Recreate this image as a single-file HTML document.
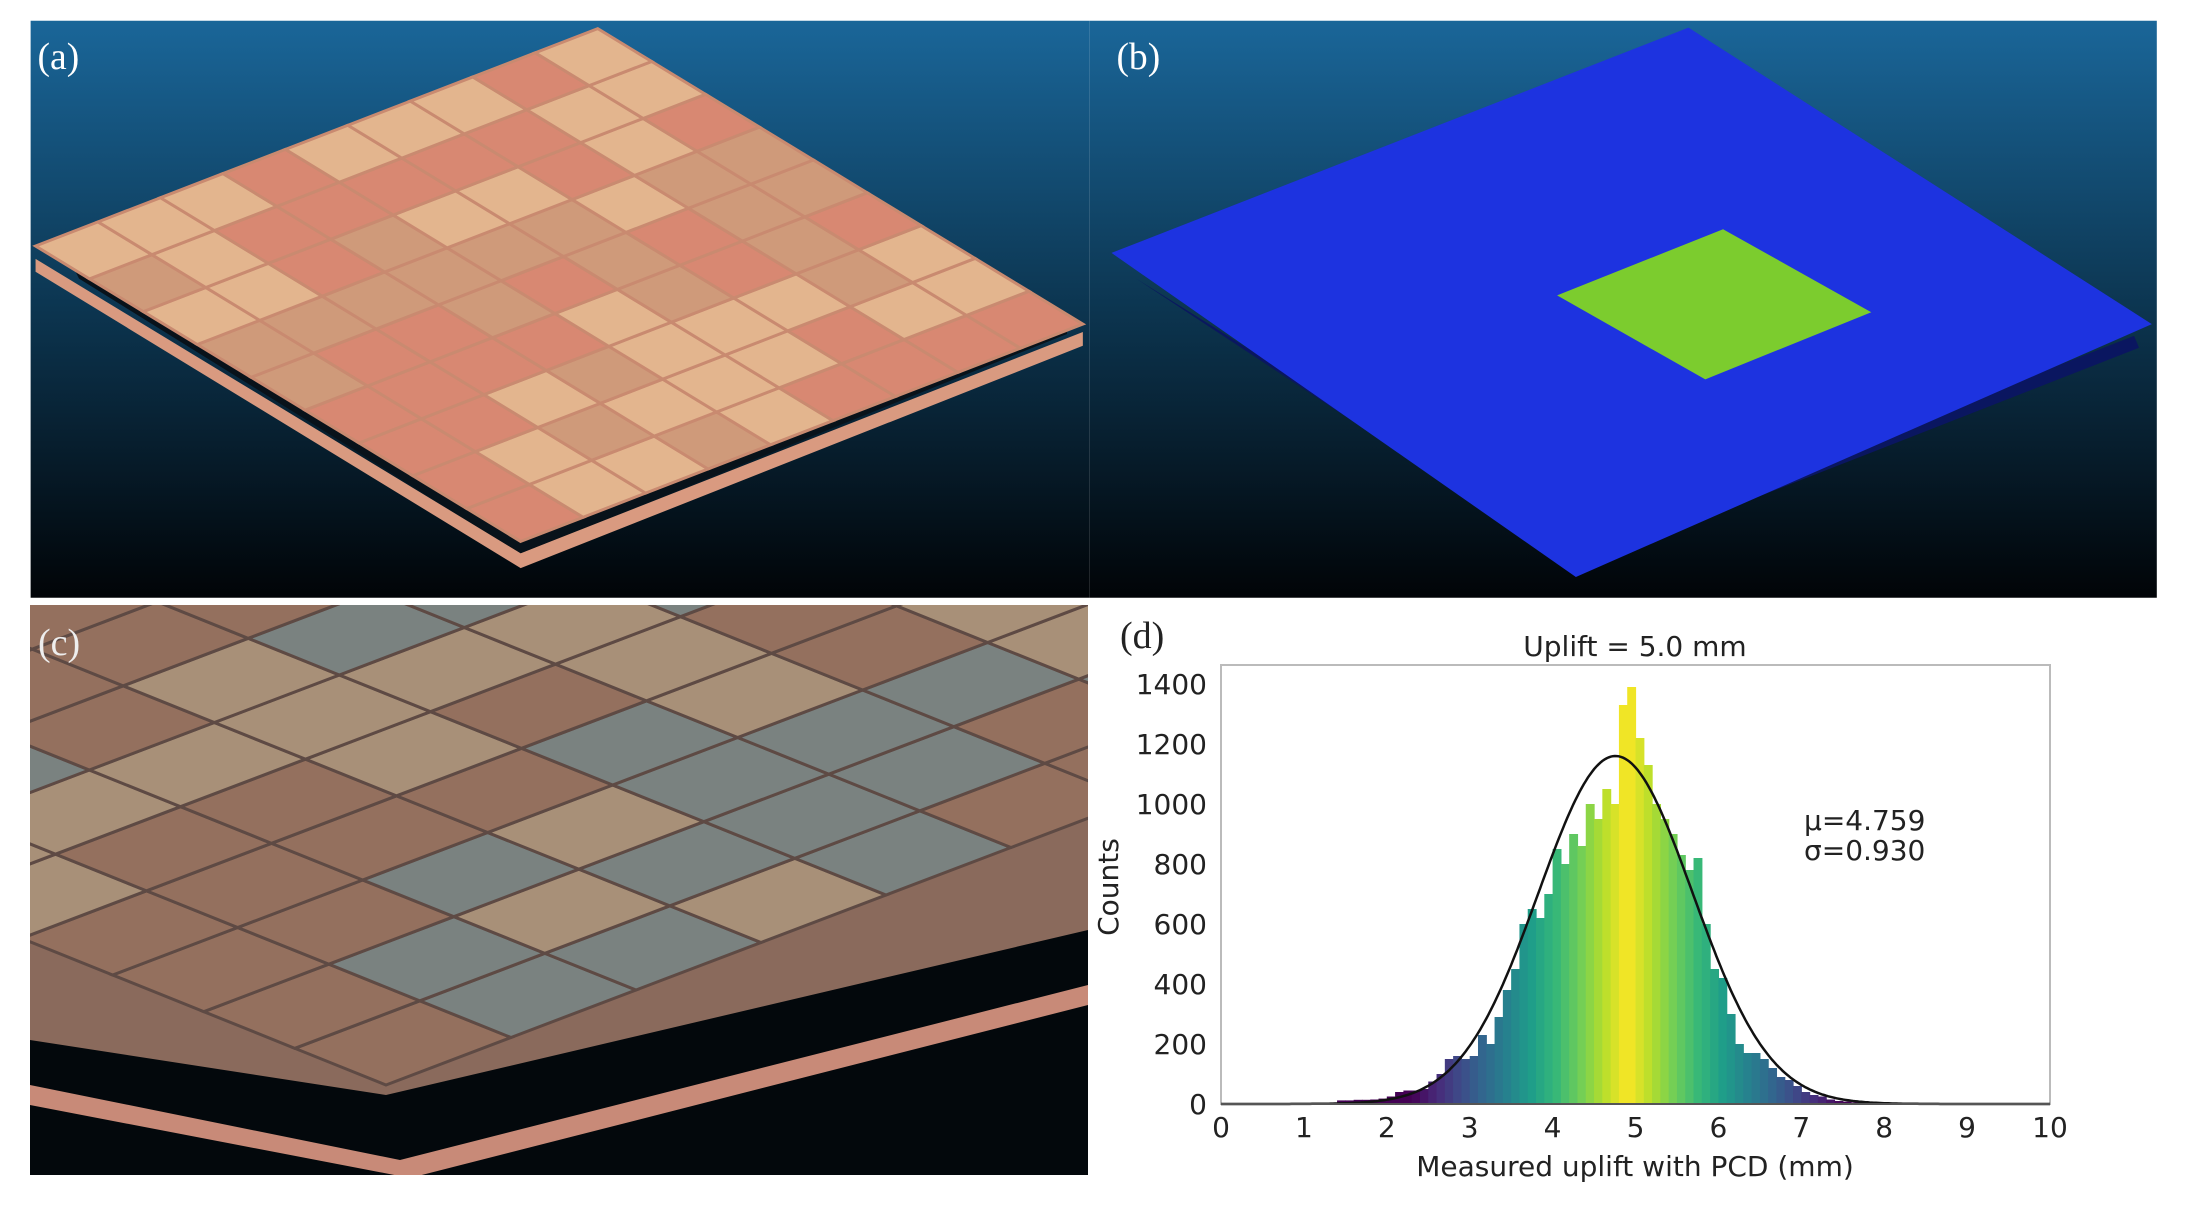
<!DOCTYPE html>
<html><head><meta charset="utf-8"><style>
html,body{margin:0;padding:0;background:#fff;}
svg{display:block;}
text{font-family:"DejaVu Sans","Liberation Sans",sans-serif;}
.lbl{font-family:"Liberation Serif",serif;font-size:38px;}
</style></head><body>
<svg id="fig" width="2204" height="1213" viewBox="0 0 2204 1213" xmlns="http://www.w3.org/2000/svg">
<defs>
<linearGradient id="sky" x1="0" y1="0" x2="0" y2="1">
<stop offset="0" stop-color="#1a6699"/><stop offset="0.5" stop-color="#0c3550"/><stop offset="1" stop-color="#010407"/>
</linearGradient>
<linearGradient id="sky2" x1="0" y1="0" x2="0" y2="1">
<stop offset="0" stop-color="#15659a"/><stop offset="1" stop-color="#0a3050"/>
</linearGradient>
<clipPath id="clipA"><rect x="31" y="21" width="1072" height="584"/></clipPath>
<clipPath id="clipC"><rect x="30" y="605" width="1058" height="570"/></clipPath>
</defs>

<g transform="scale(0.988)">
<g>
<rect x="31" y="21" width="1072" height="584" fill="url(#sky)"/>
<polygon points="36,262 527,560 1096,336 1096,350 527,575 36,275" fill="#d99a80"/>
<polygon points="70,262 527,540 1080,318 1080,338 527,560 80,282" fill="#08121a"/>
<g id="tilesA" clip-path="url(#clipA)"></g>
<text class="lbl" x="38" y="70" fill="#fff">(a)</text>
</g>

<g>
<rect x="1103" y="21" width="1080" height="584" fill="url(#sky)"/>
<polygon points="1150,282 1595,560 2160,340 2165,352 1595,575" fill="#0a1660"/>
<polygon points="1125,256 1709,28 2178,328 1595,584" fill="#1d33e0"/>
<polygon points="1576,299 1744,232 1894,316 1726,384" fill="#7ccc2e"/>
<text class="lbl" x="1130" y="70" fill="#fff">(b)</text>
</g>
</g>

<g>
<rect x="30" y="605" width="1058" height="570" fill="url(#sky2)"/>
<g clip-path="url(#clipC)">
<polygon points="30,605 524,605 1088,717 1088,940 386,1100 30,1045" fill="#8a6a5c"/>
<g id="tilesC"></g>
<polygon points="30,1040 386,1095 1088,930 1088,1175 30,1175" fill="#03080c"/>
<polygon points="30,1085 400,1160 1088,985 1088,1005 410,1178 30,1105" fill="#c88a78"/>
</g>
<text class="lbl" x="38" y="655" fill="#eee">(c)</text>
</g>

<g>
<text class="lbl" x="1120" y="648" fill="#222">(d)</text>
<text x="1635" y="656" font-size="28" text-anchor="middle" fill="#222">Uplift = 5.0 mm</text>
<rect x="1221" y="665" width="829" height="439" fill="#fff" stroke="#bbb" stroke-width="2"/>
<g id="bars"></g>
<path id="fit" fill="none" stroke="#111" stroke-width="2.5"/>
<line x1="1221" y1="1104" x2="2050" y2="1104" stroke="#555" stroke-width="2"/>
<g id="xticks"></g>
<g id="yticks"></g>
<text x="1635" y="1176" font-size="28" text-anchor="middle" fill="#222">Measured uplift with PCD (mm)</text>
<text transform="translate(1118,887) rotate(-90)" font-size="28" text-anchor="middle" fill="#222">Counts</text>
<text x="1804" y="830" font-size="28" fill="#222">μ=4.759</text>
<text x="1804" y="860" font-size="28" fill="#222">σ=0.930</text>
</g>
</svg>
<script>
const binStart = 1.4;
const binWidth = 0.1;
const counts = [12,12,14,14,15,18,25,40,45,45,50,75,100,150,160,150,160,230,200,290,380,450,600,650,620,700,850,800,900,860,1000,950,1050,1000,1330,1390,1220,1130,1000,950,900,830,780,820,600,450,420,300,200,170,170,150,120,90,80,60,40,30,25,15,10,8,5,3];
const fitMean = 4.759;
const fitSigma = 0.930;
const fitPeak = 1160;
const xTicks = [0,1,2,3,4,5,6,7,8,9,10];
const yTicks = [0,200,400,600,800,1000,1200,1400];

const NS = "http://www.w3.org/2000/svg";
const X = v => 1221 + v * 82.9;
const Y = c => 1104 - c * 0.3;
function viridis(t){
  const s=[[68,1,84],[72,40,120],[62,74,137],[49,104,142],[38,130,142],[31,158,137],[53,183,121],[109,205,89],[180,222,44],[253,231,37]];
  t=Math.max(0,Math.min(1,t))*(s.length-1);const i=Math.min(s.length-2,Math.floor(t)),f=t-i;
  return "rgb("+s[i].map((a,k)=>Math.round(a+(s[i+1][k]-a)*f)).join(",")+")";
}
const bars=document.getElementById("bars");
counts.forEach((c,i)=>{
  const x0=binStart+i*binWidth;
  const r=document.createElementNS(NS,"rect");
  r.setAttribute("x",X(x0));r.setAttribute("width",X(x0+binWidth)-X(x0)+0.6);
  r.setAttribute("y",Y(c));r.setAttribute("height",Y(0)-Y(c));
  const xc=x0+binWidth/2;
  r.setAttribute("fill",viridis(1-Math.abs(xc-4.9)/2.6));
  
  
  bars.appendChild(r);
});
let d="";
for(let i=0;i<=400;i++){const v=i/40;const c=fitPeak*Math.exp(-Math.pow(v-fitMean,2)/(2*fitSigma*fitSigma));d+=(i?"L":"M")+X(v).toFixed(1)+","+Y(c).toFixed(1);}
document.getElementById("fit").setAttribute("d",d);
const xt=document.getElementById("xticks");
xTicks.forEach(v=>{
  const t=document.createElementNS(NS,"text");
  t.setAttribute("x",X(v));t.setAttribute("y",1137);t.setAttribute("font-size","28");
  t.setAttribute("text-anchor","middle");t.setAttribute("fill","#222");t.textContent=v;
  
  
  xt.appendChild(t);
});
const yt=document.getElementById("yticks");
yTicks.forEach(v=>{
  const t=document.createElementNS(NS,"text");
  t.setAttribute("x",1207);t.setAttribute("y",Y(v)+10);t.setAttribute("font-size","28");
  t.setAttribute("text-anchor","end");t.setAttribute("fill","#222");t.textContent=v;
  
  
  yt.appendChild(t);
});
const pat="0120210120112012021012201102120102102112010220121020110201210210201120121001212012";
function tiles(g,o,u,v,n,m,cols){
  for(let i=0;i<n;i++)for(let j=0;j<m;j++){
    const p=(a,b)=>[o[0]+u[0]*a/n+v[0]*b/m,o[1]+u[1]*a/n+v[1]*b/m];
    const pts=[p(i,j),p(i+1,j),p(i+1,j+1),p(i,j+1)].map(q=>q.join(",")).join(" ");
    const pl=document.createElementNS(NS,"polygon");
    pl.setAttribute("points",pts);
    pl.setAttribute("fill",cols[+pat[(i*7+j*3)%pat.length]]);
    pl.setAttribute("stroke",cols[3]);pl.setAttribute("stroke-width","3");
    
    
    g.appendChild(pl);
  }
}
tiles(document.getElementById("tilesA"),[527,548],[569,-220],[-491,-299],9,9,["#d88872","#e3b58e","#cf9a7a","#c98a70"]);
tiles(document.getElementById("tilesC"),[386,1085],[1000,-380],[-820,-330],8,9,["#94705e","#7a8280","#a89078","#5e4a44"]);
</script>
</body></html>
